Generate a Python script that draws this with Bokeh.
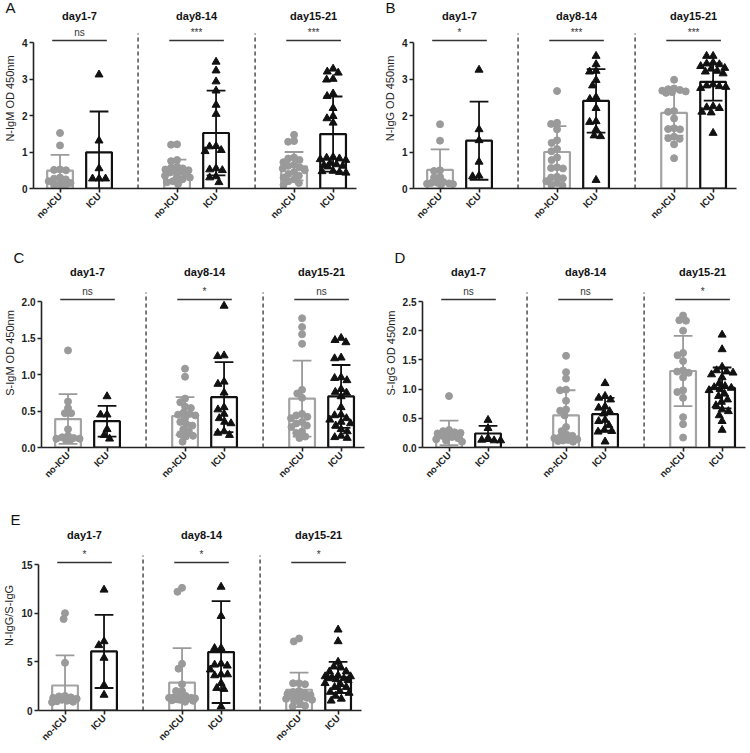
import math
from bokeh.plotting import figure
from bokeh.models import FixedTicker, NumeralTickFormatter
from bokeh.layouts import row, column
from bokeh.embed import file_html
from bokeh.resources import INLINE
from bokeh.core.properties import value

day_groups = ["day1-7", "day8-14", "day15-21"]
cohorts = ["no-ICU", "ICU"]
bar_x = [0, 1, 3, 4, 6, 7]
group_x = [0, 3, 6]
separator_x = [2, 5]

# ---- Panel A: N-IgM ----
a_d1_no = [1.52, 1.18, 0.52, 0.51, 0.50, 0.30, 0.27, 0.25, 0.20, 0.15, 0.12, 0.10, 0.08]
a_d1_icu = [3.12, 1.31, 0.55, 0.27, 0.27, 0.27]
a_d2_no = [1.21, 1.20, 0.78, 0.75, 0.60, 0.57, 0.55, 0.52, 0.50, 0.48, 0.46, 0.44, 0.40, 0.35, 0.32, 0.30, 0.25, 0.20, 0.17, 0.12]
a_d2_icu = [3.47, 3.23, 2.93, 2.68, 2.29, 2.04, 1.16, 1.15, 1.05, 1.02, 0.55, 0.52, 0.50, 0.33, 0.30, 0.17]
a_d3_no = [1.47, 1.30, 1.28, 0.85, 0.82, 0.78, 0.72, 0.65, 0.62, 0.58, 0.55, 0.50, 0.45, 0.40, 0.35, 0.30, 0.25, 0.20, 0.15, 0.10]
a_d3_icu = [3.28, 3.20, 3.17, 3.00, 2.98, 2.60, 2.53, 2.20, 1.98, 1.92, 1.80, 0.86, 0.84, 0.82, 0.80, 0.78, 0.70, 0.66, 0.64, 0.62, 0.60, 0.48, 0.47, 0.45, 0.43]
a_mean = [0.49, 0.99, 0.51, 1.52, 0.61, 1.49]
a_sd = [0.43, 1.12, 0.28, 1.16, 0.39, 1.03]
a_sig = ["ns", "***", "***"]

# ---- Panel B: N-IgG ----
b_d1_no = [1.76, 1.31, 0.50, 0.48, 0.32, 0.30, 0.18, 0.16, 0.15, 0.14, 0.13, 0.12, 0.10]
b_d1_icu = [3.25, 1.62, 1.32, 0.73, 0.35, 0.33]
b_d2_no = [2.67, 1.80, 1.77, 1.62, 1.32, 1.25, 1.08, 1.02, 0.85, 0.78, 0.58, 0.56, 0.55, 0.32, 0.30, 0.28, 0.20, 0.15, 0.10, 0.08]
b_d2_icu = [3.63, 3.40, 3.22, 3.20, 2.97, 2.82, 2.50, 2.45, 2.20, 1.84, 1.82, 1.62, 1.45, 1.43, 0.23]
b_d3_no = [2.98, 2.74, 2.72, 2.70, 2.68, 2.66, 2.64, 2.62, 2.12, 2.10, 1.92, 1.65, 1.63, 1.62, 1.42, 1.38, 1.36, 1.21, 0.83]
b_d3_icu = [3.63, 3.63, 3.45, 3.42, 3.40, 3.35, 3.30, 3.28, 3.22, 3.20, 3.15, 2.85, 2.82, 2.80, 2.78, 2.75, 2.25, 2.22, 2.20, 2.10, 2.08, 1.52]
b_mean = [0.51, 1.31, 1.00, 2.40, 2.07, 2.92]
b_sd = [0.56, 1.07, 0.71, 0.87, 0.62, 0.51]
b_sig = ["*", "***", "***"]

# ---- Panel C: S-IgM ----
c_d1_no = [1.33, 0.63, 0.54, 0.47, 0.47, 0.25, 0.16, 0.14, 0.13, 0.12, 0.12, 0.10, 0.10]
c_d1_icu = [0.70, 0.45, 0.45, 0.25, 0.17, 0.12]
c_d2_no = [1.08, 0.97, 0.67, 0.62, 0.56, 0.54, 0.48, 0.46, 0.45, 0.44, 0.40, 0.35, 0.32, 0.30, 0.25, 0.22, 0.18, 0.16, 0.15, 0.08]
c_d2_icu = [1.94, 1.26, 1.25, 0.90, 0.87, 0.75, 0.55, 0.52, 0.46, 0.40, 0.35, 0.33, 0.22, 0.20, 0.17]
c_d3_no = [1.77, 1.65, 1.55, 1.42, 0.79, 0.74, 0.68, 0.46, 0.44, 0.42, 0.40, 0.35, 0.33, 0.30, 0.28, 0.22, 0.20, 0.15, 0.13]
c_d3_icu = [1.50, 1.47, 1.44, 1.23, 1.22, 0.96, 0.95, 0.92, 0.80, 0.76, 0.75, 0.70, 0.55, 0.45, 0.44, 0.40, 0.38, 0.35, 0.33, 0.30, 0.25, 0.22, 0.16, 0.14, 0.13]
c_mean = [0.39, 0.36, 0.43, 0.69, 0.67, 0.70]
c_sd = [0.34, 0.21, 0.26, 0.48, 0.52, 0.43]
c_sig = ["ns", "*", "ns"]

# ---- Panel D: S-IgG ----
d_d1_no = [0.88, 0.30, 0.28, 0.26, 0.25, 0.24, 0.22, 0.20, 0.18, 0.16, 0.14, 0.12, 0.10]
d_d1_icu = [0.47, 0.33, 0.16, 0.13, 0.12, 0.12]
d_d2_no = [1.57, 1.29, 1.18, 0.99, 0.98, 0.80, 0.65, 0.63, 0.55, 0.35, 0.28, 0.22, 0.20, 0.18, 0.16, 0.14, 0.13, 0.12, 0.11, 0.10]
d_d2_icu = [1.10, 0.88, 0.85, 0.82, 0.70, 0.68, 0.62, 0.58, 0.47, 0.45, 0.38, 0.30, 0.28, 0.27, 0.10]
d_d3_no = [2.26, 2.18, 2.17, 2.00, 1.62, 1.58, 1.48, 1.32, 1.30, 1.28, 1.20, 0.98, 0.95, 0.85, 0.52, 0.40, 0.17]
d_d3_icu = [1.93, 1.68, 1.38, 1.32, 1.30, 1.28, 1.25, 1.20, 1.10, 1.05, 1.03, 1.02, 1.00, 0.98, 0.92, 0.88, 0.82, 0.78, 0.72, 0.65, 0.62, 0.55, 0.45, 0.30]
d_mean = [0.25, 0.24, 0.55, 0.57, 1.31, 1.02]
d_sd = [0.21, 0.13, 0.43, 0.28, 0.60, 0.35]
d_sig = ["ns", "ns", "*"]

# ---- Panel E: N-IgG / S-IgG ----
e_d1_no = [10.0, 9.4, 4.9, 1.5, 1.45, 1.35, 1.3, 1.2, 1.1, 1.0, 0.95, 0.9, 0.85]
e_d1_icu = [12.4, 7.1, 6.7, 5.4, 2.6, 1.6]
e_d2_no = [12.6, 12.2, 4.8, 4.3, 2.7, 2.0, 2.0, 1.5, 1.4, 1.35, 1.3, 1.3, 1.25, 1.2, 1.2, 1.15, 1.1, 1.05, 1.0, 0.9]
e_d2_icu = [12.7, 9.7, 6.4, 6.4, 4.8, 4.7, 4.6, 4.2, 3.7, 3.7, 3.6, 2.8, 2.3, 2.2, 0.4]
e_d3_no = [7.4, 7.1, 2.8, 2.8, 2.7, 2.0, 1.9, 1.8, 1.7, 1.6, 1.5, 1.5, 1.4, 1.3, 1.2, 1.1, 1.0, 0.8, 0.5, 0.4]
e_d3_icu = [8.3, 7.1, 5.0, 4.5, 4.4, 4.0, 4.0, 3.6, 3.5, 3.5, 3.4, 3.3, 3.3, 3.2, 3.1, 2.8, 2.7, 2.4, 2.4, 2.0, 1.9, 1.8, 1.5, 1.2, 1.0]
e_mean = [2.57, 6.07, 2.87, 6.0, 2.13, 3.4]
e_sd = [3.10, 3.76, 3.53, 5.23, 1.77, 1.6]
e_sig = ["*", "*", "*"]

GREY = "#9a9a9a"
BAR_GREY = "#a3a3a3"
BLACK = "#111111"
DARK = "#222222"
FONT = "Liberation Sans"
XPPU = 39.0      # pixels per x unit
AXIS_PX = 146    # pixel height of y axis


def swarm(vals, yppu, d, maxw):
    """Beeswarm offsets (pixels), limited to +/- maxw, allowing overlap when crowded."""
    order = sorted(range(len(vals)), key=lambda i: -vals[i])
    placed = []
    out = [0.0] * len(vals)
    for i in order:
        y = vals[i] * yppu
        cands = [0.0]
        for (px, py) in placed:
            dy = abs(py - y)
            if dy < d:
                dx = math.sqrt(d * d - dy * dy)
                cands += [px + dx + 0.01, px - dx - 0.01]
        cands = [c for c in cands if abs(c) <= maxw]
        cands.sort(key=lambda c: (abs(c), c))
        chosen = None
        for c in cands:
            if all((c - px) ** 2 + (y - py) ** 2 >= d * d - 0.05 for (px, py) in placed):
                chosen = c
                break
        if chosen is None:
            best, bestd = 0.0, -1.0
            k = -maxw
            while k <= maxw + 1e-9:
                md = min(((k - px) ** 2 + (y - py) ** 2) for (px, py) in placed)
                if md > bestd + 1e-6:
                    best, bestd = k, md
                k += 1.0
            chosen = best
        out[i] = chosen
        placed.append((chosen, y))
    return out


def panel(letter, ylabel, ymax, yticks, yfmt, series, means, sds, sigs,
          headroom, top, left, right, bottom):
    frame_h = headroom + AXIS_PX
    yppu = AXIS_PX / ymax
    p = figure(frame_width=323, frame_height=frame_h,
               x_range=(-0.68, 7.6), y_range=(0, frame_h / yppu),
               output_backend="svg", toolbar_location=None,
               min_border_left=left, min_border_right=right,
               min_border_top=top, min_border_bottom=bottom)
    p.xgrid.visible = False
    p.ygrid.visible = False
    p.outline_line_color = None
    p.background_fill_color = "white"
    p.border_fill_color = "white"

    # panel letter as the figure title, pulled left of the frame
    p.title.text = letter
    p.title.align = "left"
    p.title.vertical_align = "middle"
    p.title.offset = -28
    p.title.standoff = -17
    p.title.text_font = FONT
    p.title.text_font_style = "normal"
    p.title.text_font_size = "15px"
    p.title.text_color = "#111111"

    for ax in (p.xaxis[0], p.yaxis[0]):
        ax.axis_line_width = 1.6
        ax.axis_line_color = DARK
        ax.major_tick_line_width = 1.6
        ax.major_tick_line_color = DARK
        ax.major_tick_in = 0
        ax.major_tick_out = 4
        ax.minor_tick_line_color = None
        ax.major_label_text_font = FONT
        ax.major_label_text_font_style = "bold"
        ax.major_label_text_color = DARK

    yax = p.yaxis[0]
    yax.ticker = FixedTicker(ticks=yticks)
    yax.formatter = NumeralTickFormatter(format=yfmt)
    yax.bounds = (0, ymax)
    yax.major_label_text_font_size = "10px"
    yax.axis_label = ylabel
    yax.axis_label_text_font = FONT
    yax.axis_label_text_font_style = "normal"
    yax.axis_label_text_font_size = "11px"
    yax.axis_label_text_color = DARK
    yax.axis_label_standoff = 3
    yax.major_label_standoff = 2

    xax = p.xaxis[0]
    xax.ticker = FixedTicker(ticks=bar_x)
    xax.major_label_overrides = {x: cohorts[i % 2] for i, x in enumerate(bar_x)}
    xax.major_label_orientation = math.pi / 4
    xax.major_label_text_font_size = "9.5px"
    xax.major_label_standoff = 2

    line_colors = [BAR_GREY, BLACK] * 3
    err_colors = [GREY, BLACK] * 3

    # bars
    p.vbar(x=bar_x, top=means, width=0.66, fill_color="white",
           line_color=line_colors, line_width=2.2)

    # points
    for i, vals in enumerate(series):
        is_icu = i % 2 == 1
        offs = swarm(vals, yppu, 6.5 if is_icu else 6.0, 13.0)
        xs = [bar_x[i] + o / XPPU for o in offs]
        if is_icu:
            p.scatter(xs, vals, marker="triangle", size=8, color=BLACK)
        else:
            p.scatter(xs, vals, marker="circle", size=7, color=GREY)

    # error bars (mean +/- SD)
    lo = [m - s for m, s in zip(means, sds)]
    hi = [m + s for m, s in zip(means, sds)]
    cap = 0.24
    p.segment(x0=bar_x, y0=lo, x1=bar_x, y1=hi, line_color=err_colors, line_width=1.8)
    p.segment(x0=[x - cap for x in bar_x], y0=hi, x1=[x + cap for x in bar_x], y1=hi,
              line_color=err_colors, line_width=1.8)
    p.segment(x0=[x - cap for x in bar_x], y0=lo, x1=[x + cap for x in bar_x], y1=lo,
              line_color=err_colors, line_width=1.8)

    # dashed separators
    top_sep = ymax + 9 / yppu
    p.segment(x0=separator_x, y0=[0, 0], x1=separator_x, y1=[top_sep, top_sep],
              line_color=DARK, line_width=1.2, line_dash="4 3")

    # significance
    sig_y = ymax + 2 / yppu
    p.segment(x0=[g - 0.2 for g in group_x], y0=[sig_y] * 3,
              x1=[g + 1.2 for g in group_x], y1=[sig_y] * 3,
              line_color="#333333", line_width=1.3)
    p.text(x=[g + 0.5 for g in group_x], y=[sig_y + 3 / yppu] * 3, text=sigs,
           text_align="center", text_baseline="bottom",
           text_font=value(FONT), text_font_size="10px", text_color="#333333")

    # group titles
    title_up = min(headroom - 7, 30)
    p.text(x=[g + 0.5 for g in group_x], y=[ymax + title_up / yppu] * 3, text=day_groups,
           text_align="center", text_baseline="middle",
           text_font=value(FONT), text_font_size="11px", text_font_style="bold",
           text_color="#111111")
    return p


pA = panel("A", "N-IgM OD 450nm", 4, [0, 1, 2, 3, 4], "0",
           [a_d1_no, a_d1_icu, a_d2_no, a_d2_icu, a_d3_no, a_d3_icu], a_mean, a_sd, a_sig,
           34, 8, 27, 17, 36)
pB = panel("B", "N-IgG OD 450nm", 4, [0, 1, 2, 3, 4], "0",
           [b_d1_no, b_d1_icu, b_d2_no, b_d2_icu, b_d3_no, b_d3_icu], b_mean, b_sd, b_sig,
           34, 8, 40, 4, 36)
pC = panel("C", "S-IgM OD 450nm", 2.0, [0, 0.5, 1.0, 1.5, 2.0], "0.0",
           [c_d1_no, c_d1_icu, c_d2_no, c_d2_icu, c_d3_no, c_d3_icu], c_mean, c_sd, c_sig,
           43, 31, 27, 17, 36)
pD = panel("D", "S-IgG OD 450nm", 2.5, [0, 0.5, 1.0, 1.5, 2.0, 2.5], "0.0",
           [d_d1_no, d_d1_icu, d_d2_no, d_d2_icu, d_d3_no, d_d3_icu], d_mean, d_sd, d_sig,
           43, 31, 40, 4, 36)
pE = panel("E", "N-IgG/S-IgG", 15, [0, 5, 10, 15], "0",
           [e_d1_no, e_d1_icu, e_d2_no, e_d2_icu, e_d3_no, e_d3_icu], e_mean, e_sd, e_sig,
           44, 34, 32, 12, 36)

layout = column(row(pA, pB), row(pC, pD), row(pE))
open("out.html", "w").write(file_html(layout, INLINE))
